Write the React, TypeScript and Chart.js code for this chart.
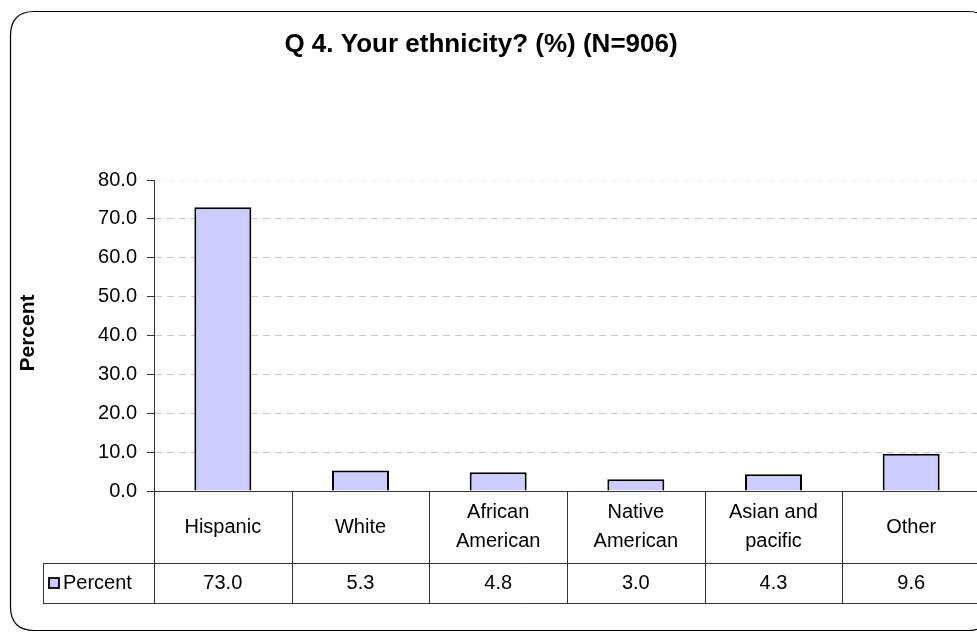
import React, { useEffect, useRef } from "react";
import { Chart, registerables } from "chart.js";

Chart.register(...registerables);

const chartTitle = "Q 4. Your ethnicity? (%) (N=906)";
const yAxisTitle = "Percent";
const seriesName = "Percent";
const categories: string[][] = [
  ["Hispanic"],
  ["White"],
  ["African", "American"],
  ["Native", "American"],
  ["Asian and", "pacific"],
  ["Other"],
];
const percentValues = [73.0, 5.3, 4.8, 3.0, 4.3, 9.6];
const yMin = 0;
const yMax = 80;
const yStep = 10;

const FONT = "Arial, 'Liberation Sans', sans-serif";
const BAR_FILL = "#CCCCFF";
const LINE = "#333333";

const decorPlugin = {
  id: "decor",
  beforeDraw(chart: any) {
    const ctx = chart.ctx;
    ctx.save();
    ctx.fillStyle = "#ffffff";
    ctx.fillRect(0, 0, chart.width, chart.height);
    // rounded outer frame
    const x0 = 10.5, y0 = 11.5, x1 = 992, y1 = 630.5, r = 24;
    ctx.beginPath();
    ctx.moveTo(x0 + r, y0);
    ctx.lineTo(x1 - r, y0);
    ctx.quadraticCurveTo(x1, y0, x1, y0 + r);
    ctx.lineTo(x1, y1 - r);
    ctx.quadraticCurveTo(x1, y1, x1 - r, y1);
    ctx.lineTo(x0 + r, y1);
    ctx.quadraticCurveTo(x0, y1, x0, y1 - r);
    ctx.lineTo(x0, y0 + r);
    ctx.quadraticCurveTo(x0, y0, x0 + r, y0);
    ctx.closePath();
    ctx.strokeStyle = "#000000";
    ctx.lineWidth = 1.2;
    ctx.stroke();
    ctx.restore();
  },
  afterDraw(chart: any) {
    const ctx = chart.ctx;
    const area = chart.chartArea;
    const xs = chart.scales.x;
    const n = categories.length;
    const colW = (area.right - area.left) / n;
    const rowTop = area.bottom;
    const rowMid = rowTop + 72;
    const rowBot = rowMid + 40;
    const legendLeft = 43;

    ctx.save();
    // title
    ctx.fillStyle = "#000";
    ctx.font = `bold 26px ${FONT}`;
    ctx.textAlign = "center";
    ctx.textBaseline = "alphabetic";
    ctx.fillText(chartTitle, 481, 52);

    // y axis title
    ctx.save();
    ctx.translate(28, 333);
    ctx.rotate(-Math.PI / 2);
    ctx.font = `bold 21px ${FONT}`;
    ctx.textAlign = "center";
    ctx.textBaseline = "middle";
    ctx.fillText(yAxisTitle, 0, 0);
    ctx.restore();

    // table lines
    ctx.strokeStyle = LINE;
    ctx.lineWidth = 1;
    const hy = (y: number) => Math.round(y) + 0.5;
    ctx.beginPath();
    ctx.moveTo(area.left - 7, hy(rowTop));
    ctx.lineTo(chart.width, hy(rowTop));
    ctx.moveTo(legendLeft, hy(rowMid));
    ctx.lineTo(chart.width, hy(rowMid));
    ctx.moveTo(legendLeft, hy(rowBot));
    ctx.lineTo(chart.width, hy(rowBot));
    ctx.moveTo(hy(legendLeft), hy(rowMid));
    ctx.lineTo(hy(legendLeft), hy(rowBot));
    for (let i = 0; i <= n; i++) {
      const ex = hy(area.left + i * colW);
      ctx.moveTo(ex, hy(rowTop));
      ctx.lineTo(ex, hy(rowBot));
    }
    ctx.stroke();

    // category labels & values
    ctx.fillStyle = "#000";
    ctx.font = `20px ${FONT}`;
    ctx.textAlign = "center";
    ctx.textBaseline = "middle";
    const catCenter = (rowTop + rowMid) / 2;
    const lh = 29;
    categories.forEach((lines, i) => {
      const cx = xs.getPixelForValue(i);
      const startY = catCenter - ((lines.length - 1) * lh) / 2;
      lines.forEach((t, j) => ctx.fillText(t, cx, startY + j * lh));
      ctx.fillText(percentValues[i].toFixed(1), cx, (rowMid + rowBot) / 2);
    });

    // legend key
    const valMid = (rowMid + rowBot) / 2;
    ctx.fillStyle = BAR_FILL;
    ctx.fillRect(49, valMid - 5, 10, 10);
    ctx.strokeStyle = "#000";
    ctx.lineWidth = 1.8;
    ctx.strokeRect(49, valMid - 5, 10, 10);
    ctx.fillStyle = "#000";
    ctx.textAlign = "left";
    ctx.fillText(seriesName, 63, valMid);
    ctx.restore();
  },
};

export default function App() {
  const ref = useRef<HTMLCanvasElement | null>(null);
  useEffect(() => {
    if (!ref.current) return;
    const chart = new Chart(ref.current, {
      type: "bar",
      data: {
        labels: categories.map((c) => c.join(" ")),
        datasets: [
          {
            label: seriesName,
            data: percentValues,
            backgroundColor: BAR_FILL,
            borderColor: "#000000",
            borderWidth: 2,
            categoryPercentage: 1,
            barPercentage: 0.414,
          },
        ],
      },
      options: {
        animation: false,
        responsive: false,
        maintainAspectRatio: false,
        devicePixelRatio: 1,
        layout: { padding: { top: 180, bottom: 141, right: 20, left: 0 } },
        plugins: {
          legend: { display: false },
          title: { display: false },
          tooltip: { enabled: false },
        },
        scales: {
          x: { display: false },
          y: {
            min: yMin,
            max: yMax,
            afterFit: (scale: any) => {
              scale.width = 154;
            },
            ticks: {
              stepSize: yStep,
              padding: 10,
              color: "#000",
              font: { family: FONT, size: 20 },
              callback: (v: any) => Number(v).toFixed(1),
            },
            grid: {
              color: (c: any) =>
                c.tick && c.tick.value === yMin
                  ? "rgba(0,0,0,0)"
                  : c.tick && c.tick.value === yMax
                  ? "#eeeeee"
                  : "#c8c8c8",
              lineWidth: 1,
              drawTicks: true,
              tickLength: 7,
              tickColor: LINE,
              tickBorderDash: [],
            },
            border: { display: true, color: LINE, width: 1, dash: [7, 5] },
          },
        },
      },
      plugins: [decorPlugin],
    });
    return () => chart.destroy();
  }, []);

  return (
    <div
      style={{
        position: "absolute",
        left: 0,
        top: 0,
        width: 977,
        height: 632,
        overflow: "hidden",
        background: "#fff",
      }}
    >
      <canvas ref={ref} width={1000} height={632} style={{ display: "block", width: 1000, height: 632 }} />
    </div>
  );
}
